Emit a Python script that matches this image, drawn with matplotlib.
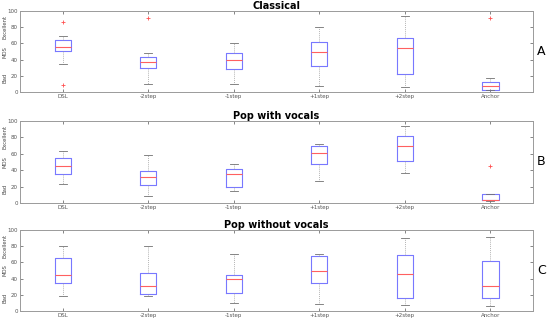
import matplotlib
matplotlib.use("Agg")
import matplotlib.pyplot as plt

# conditions on the x axis
conditions = ["DSL", "-2step", "-1step", "+1step", "+2step", "Anchor"]
titles = ["Classical", "Pop with vocals", "Pop without vocals"]
panel_letters = ["A", "B", "C"]

# box statistics: (whislo, q1, med, q3, whishi)
classical = [(34.6, 50.2, 55.1, 63.8, 69.1),
             (9.5, 29.2, 37.4, 42.8, 48.6),
             (10.3, 28.0, 40.0, 47.7, 61.0),
             (7.8, 32.5, 49.8, 61.3, 80.5),
             (6.0, 22.6, 54.0, 67.0, 94.0),
             (3.0, 3.0, 7.8, 13.0, 18.0)]
classical_fliers = [[86.4, 8.6], [91.0], [], [], [], [91.0]]

pop_vocals = [(22.8, 35.8, 44.7, 55.3, 63.8),
              (8.5, 22.4, 31.7, 39.0, 58.5),
              (14.6, 19.5, 35.8, 41.0, 48.0),
              (26.8, 48.0, 60.6, 70.0, 71.5),
              (37.0, 50.8, 70.0, 81.7, 94.0),
              (2.0, 3.2, 3.7, 11.0, 11.0)]
pop_vocals_fliers = [[], [], [], [], [], [45.5]]

pop_novocals = [(18.4, 34.7, 44.9, 65.3, 80.0),
                (18.8, 21.2, 30.6, 46.5, 80.0),
                (10.2, 22.9, 39.6, 44.5, 70.6),
                (8.6, 34.3, 49.0, 67.3, 69.8),
                (7.3, 16.3, 45.7, 69.4, 89.8),
                (6.1, 15.9, 30.6, 61.2, 90.6)]
pop_novocals_fliers = [[], [], [], [], [], []]

panels = [(classical, classical_fliers),
          (pop_vocals, pop_vocals_fliers),
          (pop_novocals, pop_novocals_fliers)]

fig = plt.figure(figsize=(5.5, 3.22), dpi=100)
rects = [[0.0364, 0.714, 0.933, 0.2516],
         [0.0364, 0.3696, 0.933, 0.2547],
         [0.0364, 0.0332, 0.933, 0.2534]]

spine_col = "#9a9a9a"
for i, (stats, fliers) in enumerate(panels):
    ax = fig.add_axes(rects[i])
    bxp_stats = []
    for (lo, q1, med, q3, hi), fl in zip(stats, fliers):
        bxp_stats.append(dict(whislo=lo, q1=q1, med=med, q3=q3, whishi=hi, fliers=fl))
    ax.bxp(bxp_stats, positions=range(1, 7), widths=0.19, capwidths=0.095,
           boxprops=dict(color="#7878ff", linewidth=0.8),
           medianprops=dict(color="#ff6060", linewidth=0.8),
           whiskerprops=dict(color="#9a9a9a", linewidth=0.5, linestyle=(0, (1.5, 1.5))),
           capprops=dict(color="#707070", linewidth=0.6),
           flierprops=dict(marker="+", markeredgecolor="#ff5050", markersize=3,
                           markeredgewidth=0.6, linestyle="none"))
    ax.set_xlim(0.5, 6.5)
    ax.set_ylim(0, 100)
    ax.set_yticks(range(0, 101, 20))
    ax.set_xticks(range(1, 7))
    ax.set_xticklabels(conditions)
    ax.tick_params(direction="in", length=2.5, width=0.5, labelsize=4,
                   colors="#555555", pad=1.5, top=True, right=True)
    for s in ax.spines.values():
        s.set_color(spine_col)
        s.set_linewidth(0.7)
    ax.set_title(titles[i], fontsize=7, fontweight="bold", pad=1.5)
    # y axis description, three parts
    ax.text(-0.0295, 0.8, "Excellent", transform=ax.transAxes, rotation=90,
            ha="center", va="center", fontsize=3.8, color="#444444")
    ax.text(-0.0295, 0.5, "MOS", transform=ax.transAxes, rotation=90,
            ha="center", va="center", fontsize=3.8, color="#444444")
    ax.text(-0.0295, 0.17, "Bad", transform=ax.transAxes, rotation=90,
            ha="center", va="center", fontsize=3.8, color="#444444")
    ax.text(1.016, 0.5, panel_letters[i], transform=ax.transAxes,
            ha="center", va="center", fontsize=9)

fig.savefig("out.png", dpi=100)
